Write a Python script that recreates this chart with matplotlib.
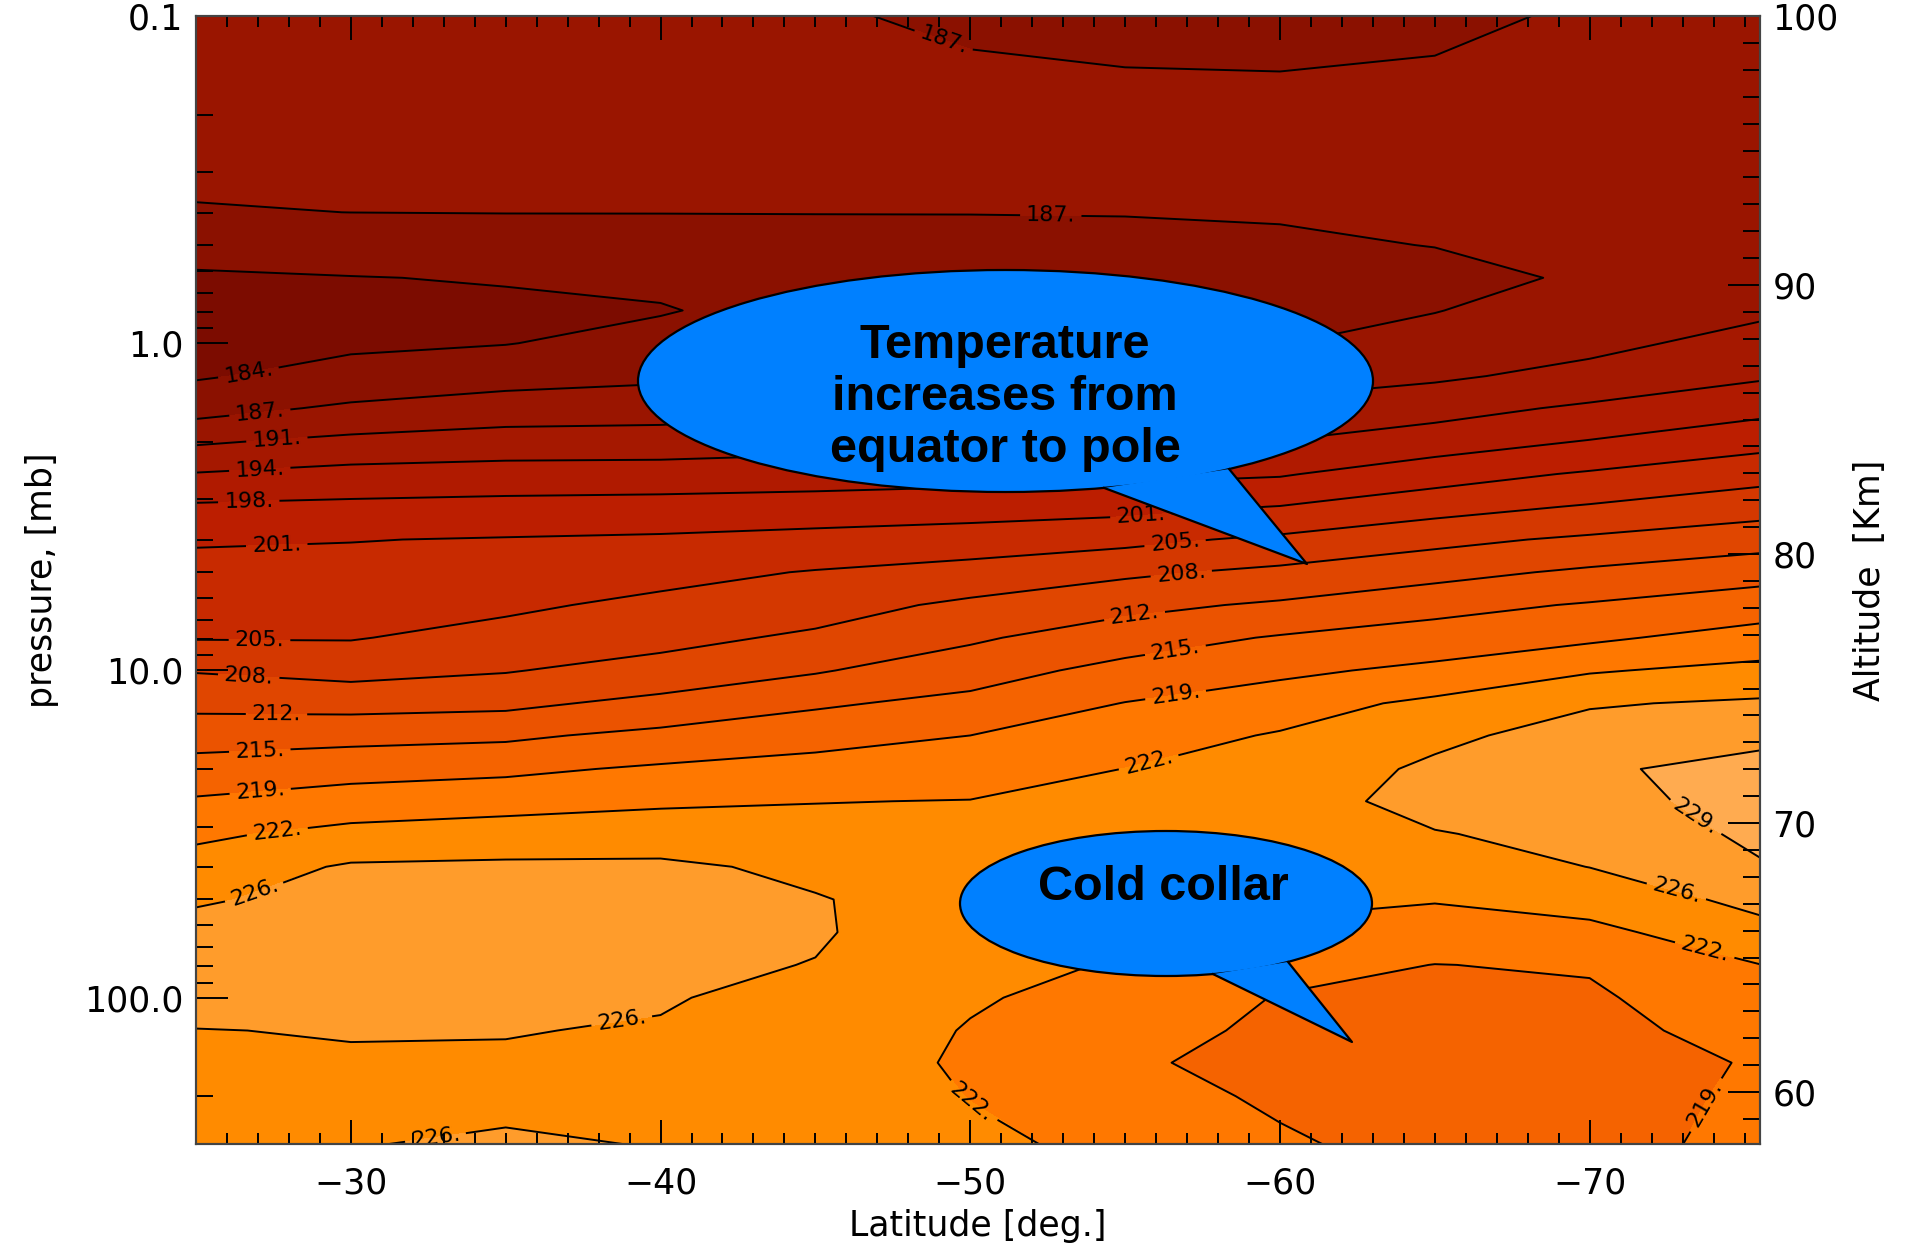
import numpy as np
import matplotlib
matplotlib.use('Agg')
import matplotlib.pyplot as plt
from matplotlib.patches import Ellipse, Polygon
from matplotlib.ticker import FixedLocator, FixedFormatter, MultipleLocator, LogLocator, NullFormatter

# Latitude columns [deg.]
latitude = [-25, -30, -35, -40, -45, -50, -55, -60, -65, -70, -75.5]

# Pressure rows [mb]
pressure = [0.1, 0.158, 0.251, 0.398, 0.501, 0.631, 0.794, 1.0, 1.26, 1.58, 2.0, 2.51, 3.16, 3.98,
            5.01, 6.31, 7.94, 10.0, 12.6, 15.8, 20.0, 25.1, 31.6, 39.8, 50.1, 63.1, 79.4, 100.0,
            126.0, 158.0, 200.0, 282.0]

# Temperature [K], one row per pressure level, one column per latitude
temperature = [
    [189.8, 189.8, 189.7, 189.6, 187.8, 187.0, 186.3, 186.1, 187.0, 187.8, 189.0],
    [189.0, 189.0, 189.0, 188.9, 188.3, 188.1, 187.9, 187.8, 187.9, 188.1, 189.2],
    [188.2, 188.3, 188.3, 188.2, 188.3, 188.2, 188.3, 188.3, 188.5, 188.4, 189.3],
    [187.34, 187.51, 187.55, 187.55, 187.55, 187.55, 187.58, 187.67, 187.87, 188.1, 188.83],
    [185.1, 185.57, 186.0, 186.15, 186.6, 186.74, 186.89, 187.17, 187.55, 187.95, 188.6],
    [183.6, 183.9, 184.2, 184.6, 185.5, 185.8, 186.1, 186.5, 186.8, 187.8, 189.6],
    [182.9, 183.1, 183.4, 183.8, 185.2, 185.7, 186.3, 186.8, 187.4, 189.0, 190.5],
    [183.0, 183.5, 183.9, 185.1, 186.3, 186.8, 187.2, 187.4, 188.8, 190.2, 192.1],
    [183.7, 185.1, 186.2, 186.9, 187.48, 188.3, 189.0, 189.6, 190.5, 192.0, 194.1],
    [186.2, 188.1, 189.2, 189.5, 190.2, 190.8, 191.4, 191.9, 193.2, 195.1, 197.0],
    [190.6, 191.9, 192.6, 192.7, 193.3, 193.7, 194.2, 194.6, 196.4, 198.2, 200.4],
    [194.7, 195.7, 196.0, 196.1, 196.4, 196.8, 197.2, 197.7, 200.0, 201.9, 203.8],
    [198.5, 198.8, 199.1, 199.3, 199.6, 200.0, 200.5, 201.6, 203.7, 205.3, 207.1],
    [201.2, 201.4, 201.7, 202.0, 202.6, 203.2, 204.1, 205.7, 207.6, 209.1, 210.6],
    [202.5, 202.6, 203.0, 204.0, 205.2, 206.3, 207.9, 209.3, 210.9, 212.6, 214.2],
    [203.7, 203.7, 204.4, 205.8, 207.1, 209.2, 211.1, 212.5, 214.4, 215.8, 217.4],
    [204.8, 204.8, 206.2, 207.5, 209.1, 211.5, 213.9, 215.8, 217.1, 218.4, 220.4],
    [208.3, 207.4, 208.3, 209.8, 211.7, 214.0, 216.6, 218.3, 219.8, 222.2, 223.5],
    [211.1, 210.8, 211.2, 213.0, 215.0, 216.5, 219.1, 220.9, 223.3, 225.7, 226.5],
    [214.1, 214.5, 214.9, 216.4, 217.8, 219.0, 220.9, 222.8, 225.2, 227.5, 229.0],
    [216.9, 217.7, 218.3, 219.5, 220.3, 220.8, 222.55, 223.7, 226.7, 229.2, 230.2],
    [219.4, 220.7, 221.3, 222.0, 222.4, 222.6, 223.4, 224.5, 227.2, 228.1, 231.0],
    [221.9, 223.5, 224.1, 224.4, 223.9, 223.6, 224.2, 224.5, 225.8, 227.1, 230.2],
    [223.9, 226.4, 226.6, 226.6, 225.3, 224.6, 224.3, 223.8, 224.3, 226.05, 229.2],
    [225.8, 226.6, 226.8, 226.7, 226.2, 224.5, 223.6, 223.0, 222.7, 223.8, 227.0],
    [226.7, 227.2, 227.4, 227.3, 226.3, 224.2, 223.0, 222.0, 220.9, 221.6, 224.8],
    [227.4, 227.3, 227.3, 226.7, 225.9, 223.6, 222.2, 220.2, 218.95, 219.3, 222.45],
    [226.7, 226.7, 226.7, 226.2, 225.2, 222.8, 221.4, 218.8, 218.4, 218.5, 221.4],
    [225.95, 226.1, 226.1, 225.8, 224.5, 222.3, 220.5, 218.2, 217.8, 218.0, 220.3],
    [225.6, 225.8, 225.7, 225.6, 224.0, 222.1, 219.6, 217.6, 217.2, 217.5, 219.3],
    [225.3, 225.5, 225.4, 225.3, 223.8, 222.45, 220.5, 218.4, 217.3, 217.6, 219.6],
    [224.8, 225.9, 226.4, 225.9, 223.6, 223.0, 221.9, 219.6, 217.5, 217.8, 220.0],
]

# Contour levels and the colour of each band between them
levels = [180.5, 184, 187.5, 191, 194.5, 198, 201.5, 205, 208.5, 212, 215.5, 219, 222.5, 226, 229.5, 233]
band_colors = ['#7c0c00', '#8b1100', '#9a1500', '#a51800', '#b01a00', '#bc1e00', '#c82a00', '#d43800',
               '#e04600', '#eb5300', '#f56300', '#ff7800', '#ff8b00', '#ff9c2b', '#ffab50']

pressure_ticks = [0.1, 1, 10, 100]
pressure_ticklabels = ['0.1', '1.0', '10.0', '100.0']
latitude_ticks = [-30, -40, -50, -60, -70]

# where the contour labels sit (lat, pressure)
label_pos = [(-26.7, 1.24), (-27.05, 1.59), (-27.6, 1.90), (-27.05, 2.34), (-26.7, 2.96), (-27.6, 3.97),
             (-27.05, 8.15), (-26.7, 10.5), (-27.6, 13.2), (-27.05, 16.7), (-27.05, 22.0), (-27.6, 29.6),
             (-26.7, 42.7), (-38.7, 110.0), (-32.7, 254.0), (-49.3, 0.107), (-52.6, 0.406),
             (-55.5, 3.27), (-56.6, 3.97), (-56.8, 4.91), (-55.3, 6.75), (-56.6, 8.4), (-56.6, 11.35),
             (-55.7, 18.1), (-73.2, 30.2), (-72.85, 45.4), (-73.8, 66.5), (-50.2, 197.0), (-74.0, 217.0)]

fig = plt.figure(figsize=(19.1, 12.51), dpi=100)
ax = fig.add_axes([196/1910, 1-1144/1251, (1760-196)/1910, (1144-16)/1251])

ax.contourf(latitude, pressure, temperature, levels=levels, colors=band_colors)
cs = ax.contour(latitude, pressure, temperature, levels=levels[1:-1], colors='black', linewidths=1.4)
ax.set_yscale('log')
ax.set_ylim(280, 0.1)
ax.set_xlim(-25, -75.5)
ax.clabel(cs, fmt=lambda v: f'{int(v)}.', fontsize=16, inline=True, inline_spacing=6, manual=label_pos)

# axes and ticks (IDL style, ticks pointing in)
ax.set_xticks(latitude_ticks)
ax.xaxis.set_minor_locator(MultipleLocator(1))
ax.yaxis.set_major_locator(FixedLocator(pressure_ticks))
ax.yaxis.set_major_formatter(FixedFormatter(pressure_ticklabels))
ax.yaxis.set_minor_locator(LogLocator(base=10, subs=np.arange(2, 10)))
ax.yaxis.set_minor_formatter(NullFormatter())
ax.tick_params(which='both', direction='in', width=1.4, colors='black', labelsize=25)
ax.tick_params(axis='x', which='major', length=17, top=True, pad=16)
ax.tick_params(axis='x', which='minor', length=8, top=True)
ax.tick_params(axis='y', which='major', length=23, right=False, pad=9)
ax.tick_params(axis='y', which='minor', length=12, right=False)
ax.set_xlabel('Latitude [deg.]', fontsize=25, labelpad=6)
ax.set_ylabel('pressure, [mb]', fontsize=25, labelpad=18)

# altitude scale on the right
ax2 = ax.twinx()
ax2.set_ylim(58.07, 100)
ax2.yaxis.set_major_locator(MultipleLocator(10))
ax2.yaxis.set_minor_locator(MultipleLocator(1))
ax2.tick_params(which='both', direction='in', width=1.4, labelsize=25, pad=9)
ax2.tick_params(which='major', length=23)
ax2.tick_params(which='minor', length=12)
ax2.set_ylabel('Altitude  [Km]', fontsize=25, labelpad=10)
for a in (ax, ax2):
    for s in a.spines.values():
        s.set_linewidth(1.5)
        s.set_color('#444444')

# speech bubbles, drawn in figure pixels
over = fig.add_axes([0, 0, 1, 1], zorder=5)
over.set_xlim(0, 1910)
over.set_ylim(1251, 0)
over.axis('off')
bubble_blue = '#0080ff'
bubble_font = ['Liberation Sans', 'DejaVu Sans']


def bubble(cx, cy, a, b, t_right, t_left, tip):
    over.add_patch(Ellipse((cx, cy), 2*a, 2*b, fc=bubble_blue, ec='black', lw=1.6))
    pr = (cx + a*np.cos(t_right), cy + b*np.sin(t_right))
    pl = (cx + a*np.cos(t_left), cy + b*np.sin(t_left))
    over.add_patch(Polygon([pr, tip, pl], closed=True, fc=bubble_blue, ec='none'))
    over.plot([pr[0], tip[0], pl[0]], [pr[1], tip[1], pl[1]], color='black', lw=1.6)


bubble(1005.5, 381, 367.5, 111, np.arctan2(0.80, 0.6136), np.arctan2(0.973, 0.271), (1307, 564))
bubble(1166, 903.5, 206, 72.5, np.arctan2(0.793, 0.583), np.arctan2(0.972, 0.228), (1352, 1042))
over.text(1005, 397, 'Temperature\nincreases from\nequator to pole', ha='center', va='center',
          fontsize=35, fontweight='bold', family=bubble_font, linespacing=1.2)
over.text(1163, 888, 'Cold collar', ha='center', va='center', fontsize=35, fontweight='bold',
          family=bubble_font)

fig.savefig('out.png')
